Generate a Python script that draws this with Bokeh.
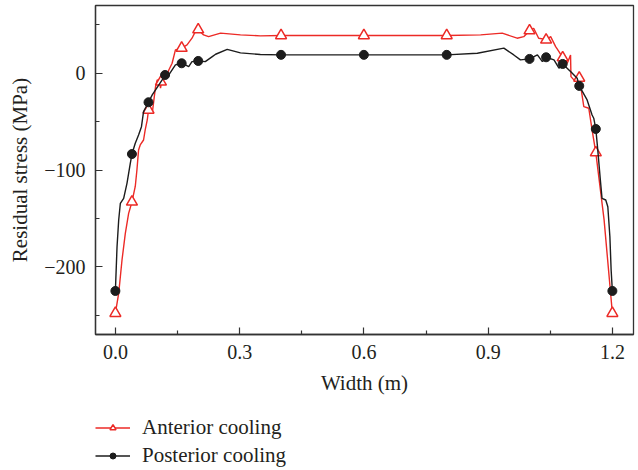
from bokeh.plotting import figure
from bokeh.layouts import column
from bokeh.models import FixedTicker, Legend, LegendItem, Range1d
from bokeh.embed import file_html
from bokeh.resources import INLINE

# ---- data ----
# traced line, anterior cooling (red)
ant_line_x = [0.0, 0.008, 0.016, 0.024, 0.032, 0.04, 0.048, 0.052, 0.056, 0.060, 0.068, 0.072, 0.077,
              0.08, 0.089, 0.093, 0.097, 0.101, 0.107, 0.109, 0.113, 0.125, 0.129, 0.137, 0.145,
              0.16, 0.173, 0.185, 0.193, 0.2, 0.213, 0.225, 0.254, 0.302, 0.35, 0.4, 0.6, 0.8,
              0.882, 0.934, 0.970, 0.986, 1.0, 1.010, 1.022, 1.035, 1.04, 1.051, 1.063, 1.071,
              1.08, 1.091, 1.099, 1.100, 1.107, 1.12, 1.123, 1.131, 1.143, 1.151, 1.16, 1.180, 1.2]
ant_line_y = [-248, -227.5, -193, -165.5, -144.8, -133, -117, -100, -79.3, -74.1, -69, -58.6, -48.3,
              -38, -41.4, -27.6, -13.9, -6.9, -9, -15.5, -5.2, -3.5, 3.4, 10.3, 24.1,
              26, 29.3, 36.2, 43.0, 45, 39.6, 37.8, 41.4, 39.6, 38.6, 39, 39, 39,
              39.6, 41.4, 36.2, 37.8, 44, 46.5, 36.2, 35.2, 34.4, 37.8, 27.5, 22.3,
              16.1, 10.3, 18.9, -3.5, -6.9, -5, -12.1, -34.5, -36.2, -58.6, -82.1, -151.6, -248]
# markers, anterior cooling
ant_x = [0.0, 0.04, 0.08, 0.11, 0.16, 0.2, 0.4, 0.6, 0.8, 1.0, 1.04, 1.08, 1.12, 1.16, 1.2]
ant_y = [-248, -133, -38, -9, 26, 45, 39, 39, 39, 44, 34.4, 16.1, -5, -82.1, -248]

# traced line, posterior cooling (black)
post_line_x = [0.0, 0.004, 0.008, 0.012, 0.020, 0.028, 0.036, 0.04, 0.048, 0.056, 0.063, 0.068,
               0.08, 0.089, 0.097, 0.105, 0.113, 0.12, 0.129, 0.137, 0.145, 0.16, 0.169, 0.177,
               0.185, 0.2, 0.217, 0.234, 0.242, 0.270, 0.302, 0.350, 0.4, 0.6, 0.8, 0.874, 0.938,
               0.962, 0.978, 1.0, 1.019, 1.031, 1.04, 1.059, 1.071, 1.08, 1.099, 1.115, 1.12,
               1.139, 1.151, 1.155, 1.16, 1.164, 1.171, 1.175, 1.184, 1.189, 1.194, 1.197, 1.2]
post_line_y = [-225, -179.3, -151.7, -134.4, -129.3, -113.8, -93.1, -83.5, -72.4, -63.8, -55.2, -39.7,
               -30, -22.4, -17.3, -12.1, -6.9, -1.8, -1.8, 3.4, 8.6, 10.3, 8.6, 6.8,
               12.0, 12.7, 12.0, 17.2, 19.6, 24.6, 21.0, 19.4, 19, 19, 19, 20.7, 25.9,
               18.9, 13.8, 14.8, 18.9, 12.0, 16.5, 13.8, 5.2, 9.6, 1.7, -5.2, -13.1,
               -27.6, -43.1, -46.5, -57.6, -75.9, -110.3, -129.3, -131, -138, -169, -203.4, -225]
# markers, posterior cooling
post_x = [0.0, 0.04, 0.08, 0.12, 0.16, 0.2, 0.4, 0.6, 0.8, 1.0, 1.04, 1.08, 1.12, 1.16, 1.2]
post_y = [-225, -83.5, -30, -1.8, 10.3, 12.7, 19, 19, 19, 14.8, 16.5, 9.6, -13.1, -57.6, -225]

x_ticks = [0.0, 0.3, 0.6, 0.9, 1.2]
x_tick_labels = ["0.0", "0.3", "0.6", "0.9", "1.2"]
y_ticks = [-200, -100, 0]
y_tick_labels = ["\u2212200", "\u2212100", "0"]

series_names = ["Anterior cooling", "Posterior cooling"]
x_title = "Width (m)"
y_title = "Residual stress (MPa)"

RED = "#ec2a26"
BLACK = "#1c1c1c"
FONT = "Liberation Serif"
TXT = "#231f20"

p = figure(width=638, height=400, output_backend="svg", toolbar_location=None,
           x_range=Range1d(-0.048, 1.251), y_range=Range1d(-270, 70),
           min_border_left=95, min_border_right=5, min_border_top=5, min_border_bottom=66)
p.background_fill_color = "white"
p.border_fill_color = "white"
p.grid.visible = False
p.outline_line_color = "#333333"
p.outline_line_width = 1.3

ant_line_style = dict(line_color=RED, line_width=1.4)
ant_mark_style = dict(marker="triangle", line_color=RED, line_width=1.5, fill_color="white")
post_line_style = dict(line_color=BLACK, line_width=1.4)
post_mark_style = dict(marker="circle", line_color=BLACK, fill_color=BLACK)

p.line(ant_line_x, ant_line_y, **ant_line_style)
p.scatter(ant_x, ant_y, size=11, **ant_mark_style)
p.line(post_line_x, post_line_y, **post_line_style)
p.scatter(post_x, post_y, size=9, **post_mark_style)

for ax in (p.xaxis[0], p.yaxis[0]):
    ax.axis_line_color = "#333333"
    ax.axis_line_width = 1.3
    ax.major_tick_line_color = "#333333"
    ax.minor_tick_line_color = "#333333"
    ax.major_tick_line_width = 1.2
    ax.minor_tick_line_width = 1.2
    ax.major_tick_in = 7
    ax.major_tick_out = 0
    ax.minor_tick_in = 4
    ax.minor_tick_out = 0
    ax.major_label_text_font = FONT
    ax.major_label_text_font_size = "20px"
    ax.major_label_text_color = TXT
    ax.axis_label_text_font = FONT
    ax.axis_label_text_font_size = "21px"
    ax.axis_label_text_font_style = "normal"
    ax.axis_label_text_color = TXT
    ax.major_label_standoff = 10
    ax.axis_label_standoff = 9

p.xaxis[0].ticker = FixedTicker(ticks=x_ticks,
                                minor_ticks=[(a + b) / 2 for a, b in zip(x_ticks[:-1], x_ticks[1:])])
p.xaxis[0].major_label_overrides = {t: l for t, l in zip(x_ticks, x_tick_labels)}
p.yaxis[0].ticker = FixedTicker(ticks=y_ticks, minor_ticks=[-250, -150, -50, 50])
p.yaxis[0].major_label_overrides = {t: l for t, l in zip(y_ticks, y_tick_labels)}
p.xaxis[0].axis_label = x_title
p.yaxis[0].axis_label = y_title

# legend panel below the chart (its renderers lie outside its visible range)
q = figure(width=638, height=70, output_backend="svg", toolbar_location=None,
           x_range=Range1d(0, 1), y_range=Range1d(1000, 1001),
           x_axis_location=None, y_axis_location=None,
           min_border_left=0, min_border_right=0, min_border_top=0, min_border_bottom=0)
q.grid.visible = False
q.outline_line_color = None
q.border_fill_color = "white"
l1 = q.line(ant_x, ant_y, **ant_line_style)
m1 = q.scatter(ant_x, ant_y, size=7, **ant_mark_style)
l2 = q.line(post_x, post_y, **post_line_style)
m2 = q.scatter(post_x, post_y, size=6, **post_mark_style)

legend = Legend(items=[LegendItem(label=series_names[0], renderers=[l1, m1]),
                       LegendItem(label=series_names[1], renderers=[l2, m2])],
                location=(0, 2), orientation="vertical",
                padding=0, margin=0, spacing=3,
                glyph_width=35, glyph_height=15, label_height=20, label_standoff=12,
                label_text_font=FONT, label_text_font_size="21px", label_text_color=TXT,
                border_line_color=None, background_fill_alpha=0)
q.add_layout(legend, "center")

open("out.html", "w").write(file_html(column(p, q, spacing=0), INLINE))
